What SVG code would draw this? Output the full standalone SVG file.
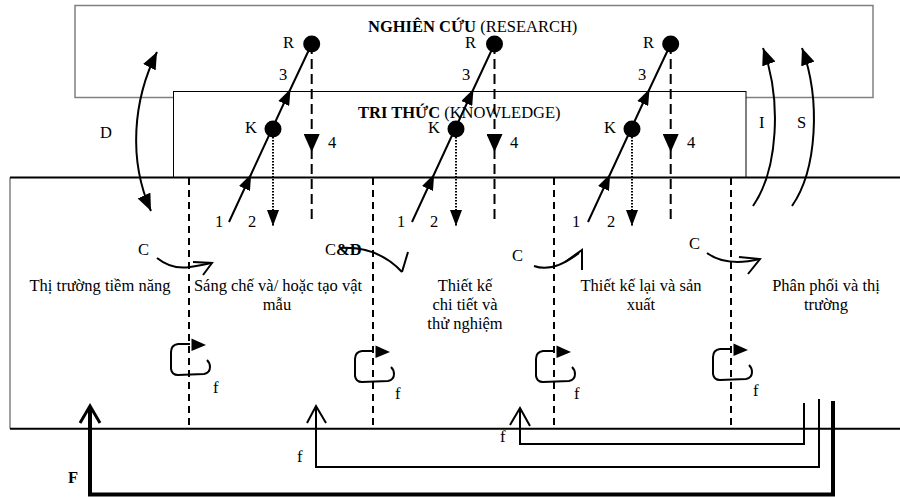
<svg xmlns="http://www.w3.org/2000/svg" width="900" height="497" viewBox="0 0 900 497">
<style>
text{font-family:"Liberation Serif","Times New Roman",serif;font-size:16.5px;fill:#000}
.b{font-weight:bold}
.mid{text-anchor:middle}
.ln{fill:none;stroke:#000;stroke-width:2}
.dash{fill:none;stroke:#000;stroke-width:2;stroke-dasharray:10 5}
.div{fill:none;stroke:#000;stroke-width:2;stroke-dasharray:7 5}
.dot{fill:none;stroke:#000;stroke-width:2;stroke-dasharray:1.5 1.5}
.open{fill:none;stroke:#000;stroke-width:2;stroke-linejoin:miter}
</style>
<defs>
<marker id="tri" viewBox="0 0 16 12" refX="16" refY="6" markerWidth="16" markerHeight="12" markerUnits="userSpaceOnUse" orient="auto"><path d="M0,0 L16,6 L0,12 z" fill="#000"/></marker>
<marker id="down" viewBox="0 0 18 16" refX="18" refY="8" markerWidth="18" markerHeight="16" markerUnits="userSpaceOnUse" orient="auto"><path d="M0,0 L18,8 L0,16 z" fill="#000"/></marker>
<marker id="big" viewBox="0 0 17 14" refX="17" refY="7" markerWidth="17" markerHeight="14" markerUnits="userSpaceOnUse" orient="auto-start-reverse"><path d="M0,0 L17,7 L0,14 z" fill="#000"/></marker>
<g id="loop">
<path d="M1,-1 L-11,-1 Q-18,0 -18,7 L-18,24 Q-17,30 -11,30 L15,29 Q21,28 21,22 Q21,18 18,15" fill="none" stroke="#000" stroke-width="2"/>
<path d="M2.5,-6.5 L17,0 L2.5,6" fill="#000"/>
</g>
</defs>

<g id="research">
<rect x="75" y="5.5" width="798" height="92" fill="#fff" stroke="#808080" stroke-width="1.5"/>
<text x="368" y="32"><tspan class="b">NGHIÊN CỨU </tspan>(RESEARCH)</text>
</g>

<g id="knowledge">
<rect x="173.5" y="91.5" width="572.5" height="86" fill="#fff" stroke="#000" stroke-width="1"/>
<text x="358" y="118"><tspan class="b">TRI THỨC </tspan>(KNOWLEDGE)</text>
</g>

<g id="market">
<path d="M10,177.5 L10,428.7" fill="none" stroke="#808080" stroke-width="1.5"/>
<path d="M10,177.5 L900,177.5 M10,428.7 L900,428.7" class="ln"/>
<path d="M189,178 L189,428 M373,178 L373,428 M554,178 L554,428 M731,178 L731,428" class="div"/>
</g>

<g id="stage-1"><text class="mid" x="100" y="291">Thị trường tiềm năng</text></g>
<g id="stage-2"><text class="mid" x="278" y="291">Sáng chế và/ hoặc tạo vật</text><text class="mid" x="277" y="310">mẫu</text></g>
<g id="stage-3"><text class="mid" x="465" y="291">Thiết kế</text><text class="mid" x="465" y="310">chi tiết và</text><text class="mid" x="465" y="329">thử nghiệm</text></g>
<g id="stage-4"><text class="mid" x="641" y="291">Thiết kế lại và sản</text><text class="mid" x="641" y="310">xuất</text></g>
<g id="stage-5"><text class="mid" x="826" y="291">Phân phối và thị</text><text class="mid" x="826" y="310">trường</text></g>

<g id="chain-1">
<circle cx="311.7" cy="44" r="8.5" fill="#000"/>
<circle cx="273" cy="129" r="8.5" fill="#000"/>
<text x="283" y="48">R</text><text x="279" y="80">3</text><text x="245" y="133">K</text><text x="328" y="148">4</text><text x="215" y="227">1</text><text x="248" y="227">2</text>
</g>
<g id="chain-2">
<circle cx="494.5" cy="44" r="8.5" fill="#000"/>
<circle cx="456" cy="129" r="8.5" fill="#000"/>
<text x="465" y="48">R</text><text x="462" y="80">3</text><text x="428" y="133">K</text><text x="510" y="148">4</text><text x="397" y="227">1</text><text x="430" y="227">2</text>
</g>
<g id="chain-3">
<circle cx="670.7" cy="44" r="8.5" fill="#000"/>
<circle cx="632" cy="129" r="8.5" fill="#000"/>
<text x="643" y="48">R</text><text x="638" y="80">3</text><text x="604" y="133">K</text><text x="687" y="148">4</text><text x="572" y="227">1</text><text x="607" y="227">2</text>
</g>

<g id="connectors">
<path class="ln" d="M229,222 L251.2,174 L290.5,89 L311.7,44" marker-mid="url(#tri)"/>
<path class="ln" d="M412,222 L434.2,174 L473.5,89 L494.5,44" marker-mid="url(#tri)"/>
<path class="ln" d="M588,222 L610.2,174 L649.5,89 L670.7,44" marker-mid="url(#tri)"/>
<path class="dash" d="M311.7,44 L311.7,152 L311.7,222" marker-mid="url(#down)"/>
<path class="dash" d="M494.5,44 L494.5,152 L494.5,222" marker-mid="url(#down)"/>
<path class="dash" d="M670.7,44 L670.7,152 L670.7,222" marker-mid="url(#down)"/>
<path class="dot" d="M273,137 L273,226" marker-end="url(#tri)"/>
<path class="dot" d="M456,137 L456,226" marker-end="url(#tri)"/>
<path class="dot" d="M632,137 L632,226" marker-end="url(#tri)"/>

<path class="ln" d="M157,52 C133,100 128,160 151,211" marker-start="url(#big)" marker-end="url(#big)"/>
<path class="ln" d="M753,206 C778,170 782,100 763,48" marker-end="url(#big)"/>
<path class="ln" d="M792,206 C817,170 821,100 802,48" marker-end="url(#big)"/>

<path class="ln" d="M157,258 Q172,270 190,267 Q203,265 211,263"/>
<polyline class="open" points="193,262 212,263 203,275"/>
<path class="ln" d="M340,248 Q378,246 402,272" stroke-width="2.5"/>
<polyline class="open" points="402,272 408,252" stroke-width="2.5"/>
<path class="ln" d="M534,266 Q553,273 579,253"/>
<polyline class="open" points="565,262 582,250 582,270"/>
<path class="ln" d="M707,253 Q726,267 760,259"/>
<polyline class="open" points="739,257 760,259 748,274"/>

<use href="#loop" x="189" y="345"/>
<use href="#loop" x="373" y="352"/>
<use href="#loop" x="554" y="352"/>
<use href="#loop" x="731" y="350"/>

<path d="M90,407 L90,494.5 L833,494.5 L833,401" fill="none" stroke="#000" stroke-width="4"/>
<polyline points="80,423 90,406 100,423" fill="none" stroke="#000" stroke-width="3"/>
<path class="ln" d="M316,407 L316,467 L819,467 L819,399"/>
<polyline class="open" points="307,423 316,406 326,423"/>
<path class="ln" d="M520,410 L520,444 L804,444 L804,403"/>
<polyline class="open" points="510,425 520,408 530,426"/>
</g>

<g id="labels">
<text x="100" y="138">D</text>
<text x="759" y="128">I</text>
<text x="797" y="128">S</text>
<text x="138" y="255">C</text>
<text x="325" y="255">C<tspan class="b">&amp;D</tspan></text>
<text x="512" y="261">C</text>
<text x="689" y="249">C</text>
<text x="213" y="393">f</text>
<text x="395" y="399">f</text>
<text x="574" y="399">f</text>
<text x="753" y="396">f</text>
<text x="297" y="462">f</text>
<text x="500" y="442">f</text>
<text class="b" x="68" y="483">F</text>
</g>
</svg>
